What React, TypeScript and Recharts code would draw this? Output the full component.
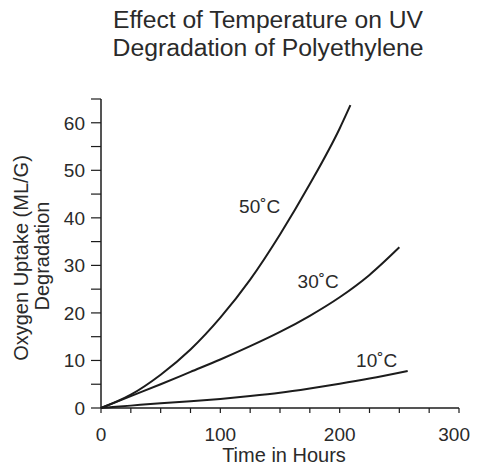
import React from "react";
import { LineChart, Line, XAxis, YAxis, ReferenceDot } from "recharts";

const hours50 = [0, 25, 50, 75, 100, 125, 150, 175, 200, 209];
const uptake50 = [0, 2.8, 7.0, 12.3, 19.0, 27.0, 36.5, 47.1, 58.8, 63.7];

const hours30 = [0, 25, 50, 75, 100, 125, 150, 175, 200, 225, 250];
const uptake30 = [0, 2.5, 5.0, 7.6, 10.2, 13.0, 16.0, 19.4, 23.3, 28.0, 33.8];

const hours10 = [0, 25, 50, 75, 100, 125, 150, 175, 200, 225, 257];
const uptake10 = [0, 0.5, 1.0, 1.4, 1.9, 2.5, 3.2, 4.1, 5.1, 6.2, 7.8];

const xTicks = [0, 25, 50, 75, 100, 125, 150, 175, 200, 225, 250, 275, 300];
const yTicks = [0, 5, 10, 15, 20, 25, 30, 35, 40, 45, 50, 55, 60, 65];

const seriesLabels = [
  { text: "50˚C", x: 133, y: 42.5 },
  { text: "30˚C", x: 182, y: 26.8 },
  { text: "10˚C", x: 231, y: 10.1 },
];

const titleLines = ["Effect of Temperature on UV", "Degradation of Polyethylene"];
const yLabelLines = ["Oxygen Uptake (ML/G)", "Degradation"];
const xLabel = "Time in Hours";

const toPoints = (xs: number[], ys: number[]) => xs.map((x, i) => ({ x, y: ys[i] }));

const data50 = toPoints(hours50, uptake50);
const data30 = toPoints(hours30, uptake30);
const data10 = toPoints(hours10, uptake10);

const FONT = "'Liberation Sans', Arial, Helvetica, sans-serif";
const TEXT = "#2a2a2a";
const INK = "#1c1c1c";

const XTick = (props: any) => {
  const { x, y, payload } = props;
  if (payload.value % 100 !== 0) return <g />;
  const last = payload.value === 300;
  return (
    <text
      x={last ? x + 11 : x}
      y={y}
      dy={26}
      textAnchor={last ? "end" : "middle"}
      fontSize={19}
      fill={TEXT}
      fontFamily={FONT}
    >
      {payload.value}
    </text>
  );
};

const YTick = (props: any) => {
  const { x, y, payload } = props;
  if (payload.value % 10 !== 0) return <g />;
  return (
    <text x={x - 4} y={y} dy={7} textAnchor="end" fontSize={19} fill={TEXT} fontFamily={FONT}>
      {payload.value}
    </text>
  );
};

export default function App() {
  return (
    <div style={{ position: "relative", width: 463, height: 460 }}>
      <LineChart
        width={471}
        height={460}
        margin={{ top: 91, right: 20, bottom: 30, left: 33 }}
      >
        <XAxis
          type="number"
          dataKey="x"
          domain={[0, 300]}
          ticks={xTicks}
          interval={0}
          tickSize={5}
          tick={<XTick />}
          height={30}
          stroke={INK}
          axisLine={{ stroke: INK, strokeWidth: 1.5 }}
          tickLine={{ stroke: INK, strokeWidth: 1.2 }}
        />
        <YAxis
          type="number"
          dataKey="y"
          domain={[0, 65]}
          ticks={yTicks}
          interval={0}
          tickSize={10}
          tick={<YTick />}
          width={60}
          stroke={INK}
          axisLine={{ stroke: INK, strokeWidth: 1.5 }}
          tickLine={{ stroke: INK, strokeWidth: 1.2 }}
        />
        <Line data={data50} dataKey="y" type="monotone" stroke={INK} strokeWidth={2} dot={false} isAnimationActive={false} />
        <Line data={data30} dataKey="y" type="monotone" stroke={INK} strokeWidth={2} dot={false} isAnimationActive={false} />
        <Line data={data10} dataKey="y" type="monotone" stroke={INK} strokeWidth={2} dot={false} isAnimationActive={false} />
        {seriesLabels.map((l) => (
          <ReferenceDot
            key={l.text}
            x={l.x}
            y={l.y}
            r={0}
            shape={(p: any) => (
              <text x={p.cx} y={p.cy} dy={7} textAnchor="middle" fontSize={19} fill={TEXT} fontFamily={FONT}>
                {l.text}
              </text>
            )}
          />
        ))}
      </LineChart>
      <svg
        width={463}
        height={460}
        style={{ position: "absolute", left: 0, top: 0, pointerEvents: "none" }}
      >
        <text
          x={260}
          y={20}
          textAnchor="middle"
          fontSize={23}
          fill={TEXT}
          fontFamily={FONT}
          textLength={310}
          lengthAdjust="spacingAndGlyphs"
        >
          {titleLines[0]}
        </text>
        <text
          x={260}
          y={48}
          textAnchor="middle"
          fontSize={23}
          fill={TEXT}
          fontFamily={FONT}
          textLength={311}
          lengthAdjust="spacingAndGlyphs"
        >
          {titleLines[1]}
        </text>
        <text
          transform="translate(20,250) rotate(-90)"
          textAnchor="middle"
          fontSize={20}
          fill={TEXT}
          fontFamily={FONT}
        >
          {yLabelLines[0]}
        </text>
        <text
          transform="translate(41,248) rotate(-90)"
          textAnchor="middle"
          fontSize={20}
          fill={TEXT}
          fontFamily={FONT}
        >
          {yLabelLines[1]}
        </text>
        <text x={276} y={454} textAnchor="middle" fontSize={20} fill={TEXT} fontFamily={FONT}>
          {xLabel}
        </text>
      </svg>
    </div>
  );
}
